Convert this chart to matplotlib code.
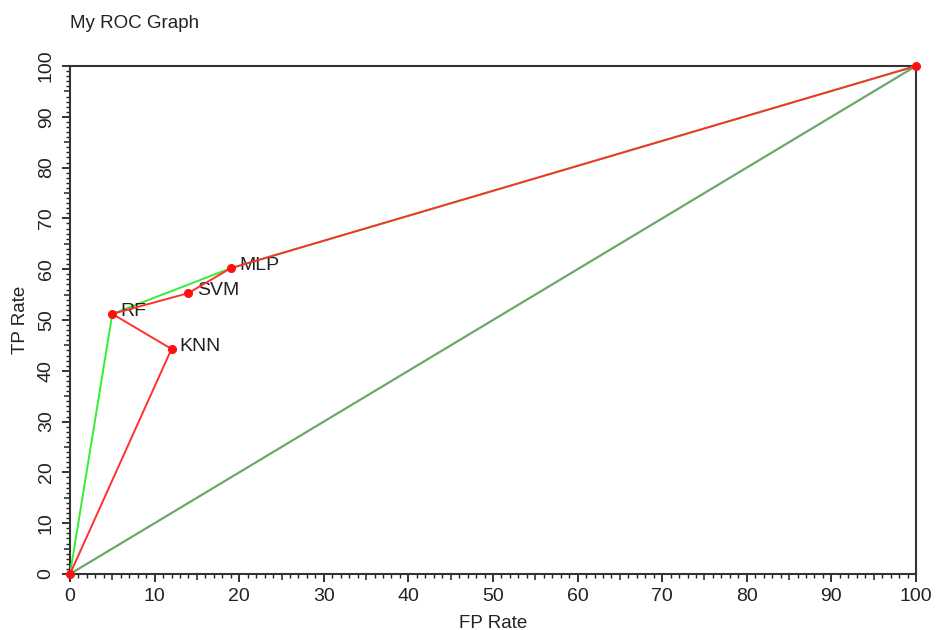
import matplotlib
matplotlib.use("Agg")
import matplotlib.pyplot as plt
from matplotlib.ticker import MultipleLocator, FixedLocator, NullFormatter

plt.rcParams["font.family"] = ["Liberation Sans", "DejaVu Sans"]

# classifier operating points (FP rate, TP rate)
names = ["KNN", "RF", "SVM", "MLP"]
fp = [12, 5, 14, 19]
tp = [44.3, 51.2, 55.3, 60.2]

# curves
diag_x = [0, 100]
diag_y = [0, 100]
green_x = [0, 5, 19, 100]
green_y = [0, 51.2, 60.2, 100]
red_x = [0, 12, 5, 14, 19, 100]
red_y = [0, 44.3, 51.2, 55.3, 60.2, 100]
dots_x = [0, 12, 5, 14, 19, 100]
dots_y = [0, 44.3, 51.2, 55.3, 60.2, 100]

ink = "#222222"
fig = plt.figure(figsize=(9.36, 6.3), dpi=100)
ax = fig.add_axes([0.0748, 0.0889, 0.9038, 0.8063])

ax.plot(diag_x, diag_y, color="#6aa96a", lw=1.6, zorder=2)
ax.plot(green_x, green_y, color="#33ee33", lw=1.4, zorder=3)
ax.plot(red_x, red_y, color="#ff3030", lw=1.4, zorder=4)
ax.plot(dots_x, dots_y, ls="none", marker="o", ms=5.5, color="#ff1010",
        clip_on=False, zorder=5)

for n, x, y in zip(names, fp, tp):
    ax.annotate(n, (x, y), xytext=(6, 2), textcoords="offset points",
                fontsize=14, color=ink, va="center", ha="left")

ax.set_xlim(0, 100)
ax.set_ylim(0, 100)
small = [v for v in range(101) if v % 5]
mid = list(range(5, 100, 10))
for axis in (ax.xaxis, ax.yaxis):
    axis.set_major_locator(MultipleLocator(10))
    axis.set_minor_locator(FixedLocator(small))
ax.tick_params(which="major", length=6, width=1.3, color=ink,
               labelsize=14, labelcolor=ink)
ax.tick_params(axis="x", which="major", pad=4)
ax.tick_params(axis="y", which="major", pad=5)
ax.tick_params(which="minor", length=3, width=1.0, color=ink)
for lab in ax.get_yticklabels():
    lab.set_rotation(90)
    lab.set_va("center")

# medium ticks at the fives
secx = ax.secondary_xaxis(0)
secx.set_xticks(mid)
secx.xaxis.set_major_formatter(NullFormatter())
secx.tick_params(length=4.5, width=1.1, color=ink)
secy = ax.secondary_yaxis(0)
secy.set_yticks(mid)
secy.yaxis.set_major_formatter(NullFormatter())
secy.tick_params(length=4.5, width=1.1, color=ink)
for s in list(secx.spines.values()) + list(secy.spines.values()):
    s.set_visible(False)

for s in ax.spines.values():
    s.set_linewidth(1.5)
    s.set_color("#333333")

ax.set_xlabel("FP Rate", fontsize=13.5, color=ink, labelpad=7)
ax.set_ylabel("TP Rate", fontsize=13.5, color=ink, labelpad=6)
fig.text(0.0748, 0.962, "My ROC Graph", fontsize=13.5, color=ink,
         ha="left", va="center")

fig.savefig("out.png", dpi=100)
